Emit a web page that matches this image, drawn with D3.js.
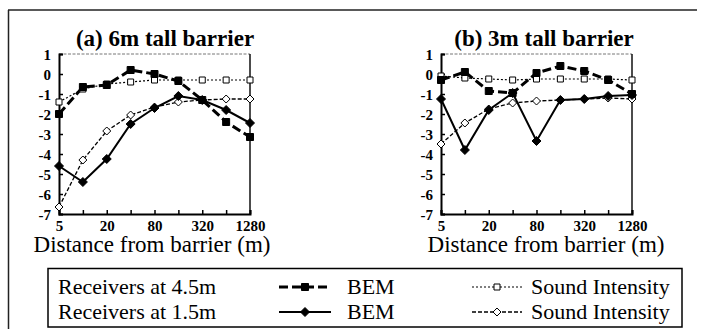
<!DOCTYPE html>
<html>
<head>
<meta charset="utf-8">
<script src="https://cdn.jsdelivr.net/npm/d3@7"></script>
</head>
<body style="margin:0">
<svg id="chart" width="705" height="329"></svg>
<script>
// distances from the barrier (m), log2 spaced
var distances = [5, 10, 20, 40, 80, 160, 320, 640, 1280];
var xTickLabels = [5, 20, 80, 320, 1280];
var yTicks = [1, 0, -1, -2, -3, -4, -5, -6, -7];
var panelTitles = ["(a) 6m tall barrier", "(b) 3m tall barrier"];

// (a) 6m barrier
var bem45A = [-2.0, -0.65, -0.55, 0.2, 0.0, -0.35, -1.3, -2.4, -3.15];
var si45A  = [-1.4, -0.75, -0.5, -0.4, -0.3, -0.3, -0.3, -0.3, -0.3];
var bem15A = [-4.6, -5.4, -4.25, -2.5, -1.7, -1.1, -1.3, -1.8, -2.45];
var si15A  = [-6.65, -4.3, -2.85, -2.05, -1.65, -1.4, -1.3, -1.25, -1.25];

// (b) 3m barrier
var bem45B = [-0.3, 0.1, -0.85, -0.95, 0.05, 0.4, 0.15, -0.3, -1.0];
var si45B  = [-0.1, -0.2, -0.25, -0.3, -0.25, -0.25, -0.25, -0.25, -0.3];
var bem15B = [-1.25, -3.8, -1.8, -0.95, -3.35, -1.3, -1.25, -1.1, -1.05];
var si15B  = [-3.5, -2.45, -1.75, -1.45, -1.35, -1.3, -1.25, -1.2, -1.25];

var legendRows = ["Receivers at 4.5m", "Receivers at 1.5m"];

var serif = "'Liberation Serif'";

var styles = {
  bem45: {stroke: 3, dash: "9,4", marker: "square", filled: true},
  si45:  {stroke: 1.2, dash: "2,2", marker: "square", filled: false},
  bem15: {stroke: 2, dash: null, marker: "diamond", filled: true},
  si15:  {stroke: 1.3, dash: "4,2", marker: "diamond", filled: false}
};

var panels = [
  {title: panelTitles[0], left: 59, titleX: 165, xTitleX: 152,
   series: [["si15", si15A], ["si45", si45A], ["bem15", bem15A], ["bem45", bem45A]]},
  {title: panelTitles[1], left: 441, titleX: 544, xTitleX: 546,
   series: [["si15", si15B], ["si45", si45B], ["bem15", bem15B], ["bem45", bem45B]]}
];

var svg = d3.select("#chart");
var plotW = 191, plotTop = 54, plotBottom = 214;

// outer frame (top and left only, as in the scan)
svg.append("line").attr("x1", 8).attr("x2", 697).attr("y1", 10).attr("y2", 10)
  .attr("stroke", "#222").attr("stroke-width", 1.5);
svg.append("line").attr("x1", 8.5).attr("x2", 8.5).attr("y1", 10).attr("y2", 329)
  .attr("stroke", "#222").attr("stroke-width", 1.5);

function markerPath(type, size) {
  var s = size / 2;
  if (type == "square") return "M" + -s + "," + -s + "h" + size + "v" + size + "h" + -size + "Z";
  return "M0," + -(s + 1) + "L" + (s + 1) + ",0L0," + (s + 1) + "L" + -(s + 1) + ",0Z";
}

panels.forEach(function (p) {
  var x = d3.scaleLog().base(2).domain([5, 1280]).range([p.left, p.left + plotW]);
  var y = d3.scaleLinear().domain([-7, 1]).range([plotBottom, plotTop]);
  var g = svg.append("g");

  // title
  g.append("text")
    .attr("x", p.titleX)
    .attr("y", 46)
    .attr("text-anchor", "middle")
    .attr("font-size", 23)
    .attr("font-weight", "bold")
    .style("font-family", serif)
    .text(p.title);

  // dotted top edge and right edge
  g.append("line").attr("x1", p.left).attr("x2", p.left + plotW)
    .attr("y1", plotTop).attr("y2", plotTop)
    .attr("stroke", "#777").attr("stroke-width", 1).attr("stroke-dasharray", "3,1.5");
  g.append("line").attr("x1", p.left + plotW).attr("x2", p.left + plotW)
    .attr("y1", plotTop).attr("y2", plotBottom)
    .attr("stroke", "#111").attr("stroke-width", 1.5);

  // axes
  var xAxis = d3.axisBottom(x)
    .tickValues(distances)
    .tickSize(-4)
    .tickPadding(6)
    .tickFormat(function (d) { return xTickLabels.indexOf(d) >= 0 ? d : ""; });
  var xg = g.append("g").attr("transform", "translate(0," + plotBottom + ")").call(xAxis);

  var yAxis = d3.axisLeft(y)
    .tickValues(yTicks)
    .tickSize(-4)
    .tickPadding(8)
    .tickFormat(function (d) { return String(d); });
  var yg = g.append("g").attr("transform", "translate(" + p.left + ",0)").call(yAxis);

  [xg, yg].forEach(function (a) {
    a.attr("font-family", null);
    a.select(".domain").attr("stroke", "#000").attr("stroke-width", 2);
    a.selectAll(".tick line").attr("stroke", "#000").attr("stroke-width", 1.5);
    a.selectAll(".tick text")
      .attr("font-size", 15)
      .attr("font-weight", "bold")
      .attr("fill", "#000")
      .style("font-family", serif);
  });
  yg.selectAll(".tick text").attr("dy", "0.35em");

  // x axis title
  g.append("text")
    .attr("x", p.xTitleX)
    .attr("y", 252)
    .attr("text-anchor", "middle")
    .attr("font-size", 23)
    .style("font-family", serif)
    .text("Distance from barrier (m)");

  var line = d3.line()
    .x(function (d, i) { return x(distances[i]); })
    .y(function (d) { return y(d); });

  p.series.forEach(function (s) {
    var st = styles[s[0]];
    g.append("path")
      .attr("d", line(s[1]))
      .attr("fill", "none")
      .attr("stroke", "#000")
      .attr("stroke-width", st.stroke)
      .attr("stroke-dasharray", st.dash);
  });

  p.series.forEach(function (s) {
    var st = styles[s[0]];
    g.selectAll(null)
      .data(s[1])
      .enter()
      .append("path")
      .attr("transform", function (d, i) { return "translate(" + x(distances[i]) + "," + y(d) + ")"; })
      .attr("d", markerPath(st.marker, st.filled ? 7 : 6))
      .attr("fill", st.filled ? "#000" : "#fff")
      .attr("stroke", "#000")
      .attr("stroke-width", 1);
  });
});

// legend
var legend = svg.append("g");
legend.append("rect")
  .attr("x", 48).attr("y", 268.5)
  .attr("width", 634).attr("height", 58.5)
  .attr("fill", "#fff")
  .attr("stroke", "#000")
  .attr("stroke-width", 1.5);

var legendItems = [
  [["bem45", "BEM"], ["si45", "Sound Intensity"]],
  [["bem15", "BEM"], ["si15", "Sound Intensity"]]
];

legendRows.forEach(function (label, r) {
  var cy = 287 + r * 25;
  legend.append("text")
    .attr("x", 58).attr("y", cy + 7)
    .attr("font-size", 22)
    .style("font-family", serif)
    .text(label);

  var cols = [{x0: 279, x1: 331, tx: 347}, {x0: 472, x1: 522, tx: 531}];
  legendItems[r].forEach(function (item, c) {
    var st = styles[item[0]];
    var col = cols[c];
    legend.append("line")
      .attr("x1", col.x0).attr("x2", col.x1)
      .attr("y1", cy).attr("y2", cy)
      .attr("stroke", "#000")
      .attr("stroke-width", st.stroke)
      .attr("stroke-dasharray", st.dash);
    legend.append("path")
      .attr("transform", "translate(" + (col.x0 + col.x1) / 2 + "," + cy + ")")
      .attr("d", markerPath(st.marker, st.filled ? 7 : 6))
      .attr("fill", st.filled ? "#000" : "#fff")
      .attr("stroke", "#000")
      .attr("stroke-width", 1);
    legend.append("text")
      .attr("x", col.tx).attr("y", cy + 7)
      .attr("font-size", 22)
      .style("font-family", serif)
      .text(item[1]);
  });
});
</script>
</body>
</html>
